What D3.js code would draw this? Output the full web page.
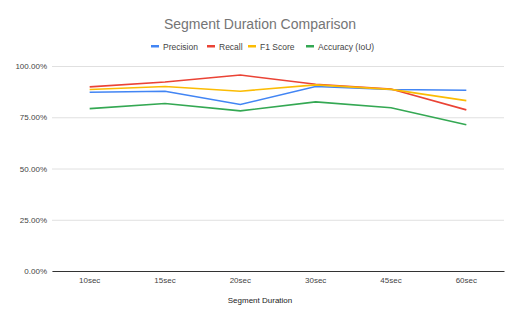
<!DOCTYPE html>
<html>
<head>
<meta charset="utf-8">
<script src="https://cdn.jsdelivr.net/npm/d3@7"></script>
<style>
  body { margin: 0; background: #fff; }
  svg { display: block; font-family: "Liberation Sans", Arial, sans-serif; }
</style>
</head>
<body>
<svg id="canvas"></svg>
<script>
let categories = ['10sec', '15sec', '20sec', '30sec', '45sec', '60sec'];
let seriesNames = ['Precision', 'Recall', 'F1 Score', 'Accuracy (IoU)'];
let precision = [87.2, 87.7, 81.2, 90.0, 88.5, 88.2];
let recall = [89.8, 92.2, 95.6, 91.1, 88.8, 78.6];
let f1Score = [88.5, 90.0, 87.7, 90.8, 88.6, 83.1];
let accuracy = [79.2, 81.7, 78.1, 82.5, 79.6, 71.3];
let yTicks = [0, 25, 50, 75, 100];
let colors = ['#4285F4', '#EA4335', '#FBBC04', '#34A853'];

let seriesValues = [precision, recall, f1Score, accuracy];

let width = 520;
let height = 321;
let plotLeft = 52;
let plotRight = 504;
let plotTop = 66;
let plotBottom = 271;
let font = '"Liberation Sans", Arial, sans-serif';

let canvas = d3.select('#canvas')
               .attr('width', width)
               .attr('height', height);

let xScale = d3.scaleBand()
               .domain(categories)
               .range([plotLeft, plotRight]);

let yScale = d3.scaleLinear()
               .domain([0, 100])
               .range([plotBottom, plotTop]);

// title
canvas.append('text')
      .attr('x', width / 2)
      .attr('y', 29)
      .attr('text-anchor', 'middle')
      .attr('font-size', 14)
      .attr('fill', '#757575')
      .text('Segment Duration Comparison');

// legend
let legendX = [151, 207, 248, 306];
let legend = canvas.append('g');
seriesNames.forEach((name, i) => {
    legend.append('rect')
          .attr('x', legendX[i])
          .attr('y', 45)
          .attr('width', 8)
          .attr('height', 2.5)
          .attr('fill', colors[i]);
    legend.append('text')
          .attr('x', legendX[i] + 12)
          .attr('y', 49.5)
          .attr('font-size', 8.5)
          .attr('fill', '#444')
          .text(name);
});

// gridlines + y axis
let yAxis = d3.axisLeft(yScale)
              .tickValues(yTicks)
              .tickSize(-(plotRight - plotLeft))
              .tickPadding(5)
              .tickFormat((d) => d.toFixed(2) + '%');

let yG = canvas.append('g')
               .attr('transform', 'translate(' + plotLeft + ', 0)')
               .call(yAxis);
yG.select('.domain').remove();
yG.selectAll('line').attr('stroke', '#e0e0e0');
yG.selectAll('text')
  .attr('font-size', 8)
  .attr('fill', '#444')
  .attr('font-family', font);

// x axis
let xAxis = d3.axisBottom(xScale).tickSize(0).tickPadding(6);
let xG = canvas.append('g')
               .attr('transform', 'translate(0, ' + plotBottom + ')')
               .call(xAxis);
xG.select('.domain').attr('stroke', '#333');
xG.selectAll('text')
  .attr('font-size', 8)
  .attr('fill', '#444')
  .attr('font-family', font);

canvas.append('text')
      .attr('x', width / 2)
      .attr('y', 303)
      .attr('text-anchor', 'middle')
      .attr('font-size', 8)
      .attr('fill', '#222')
      .text('Segment Duration');

// lines
let line = d3.line()
             .x((d, i) => xScale(categories[i]) + xScale.bandwidth() / 2)
             .y((d) => yScale(d));

seriesValues.forEach((values, i) => {
    canvas.append('path')
          .datum(values)
          .attr('fill', 'none')
          .attr('stroke', colors[i])
          .attr('stroke-width', 1.6)
          .attr('d', line);
});
</script>
</body>
</html>
